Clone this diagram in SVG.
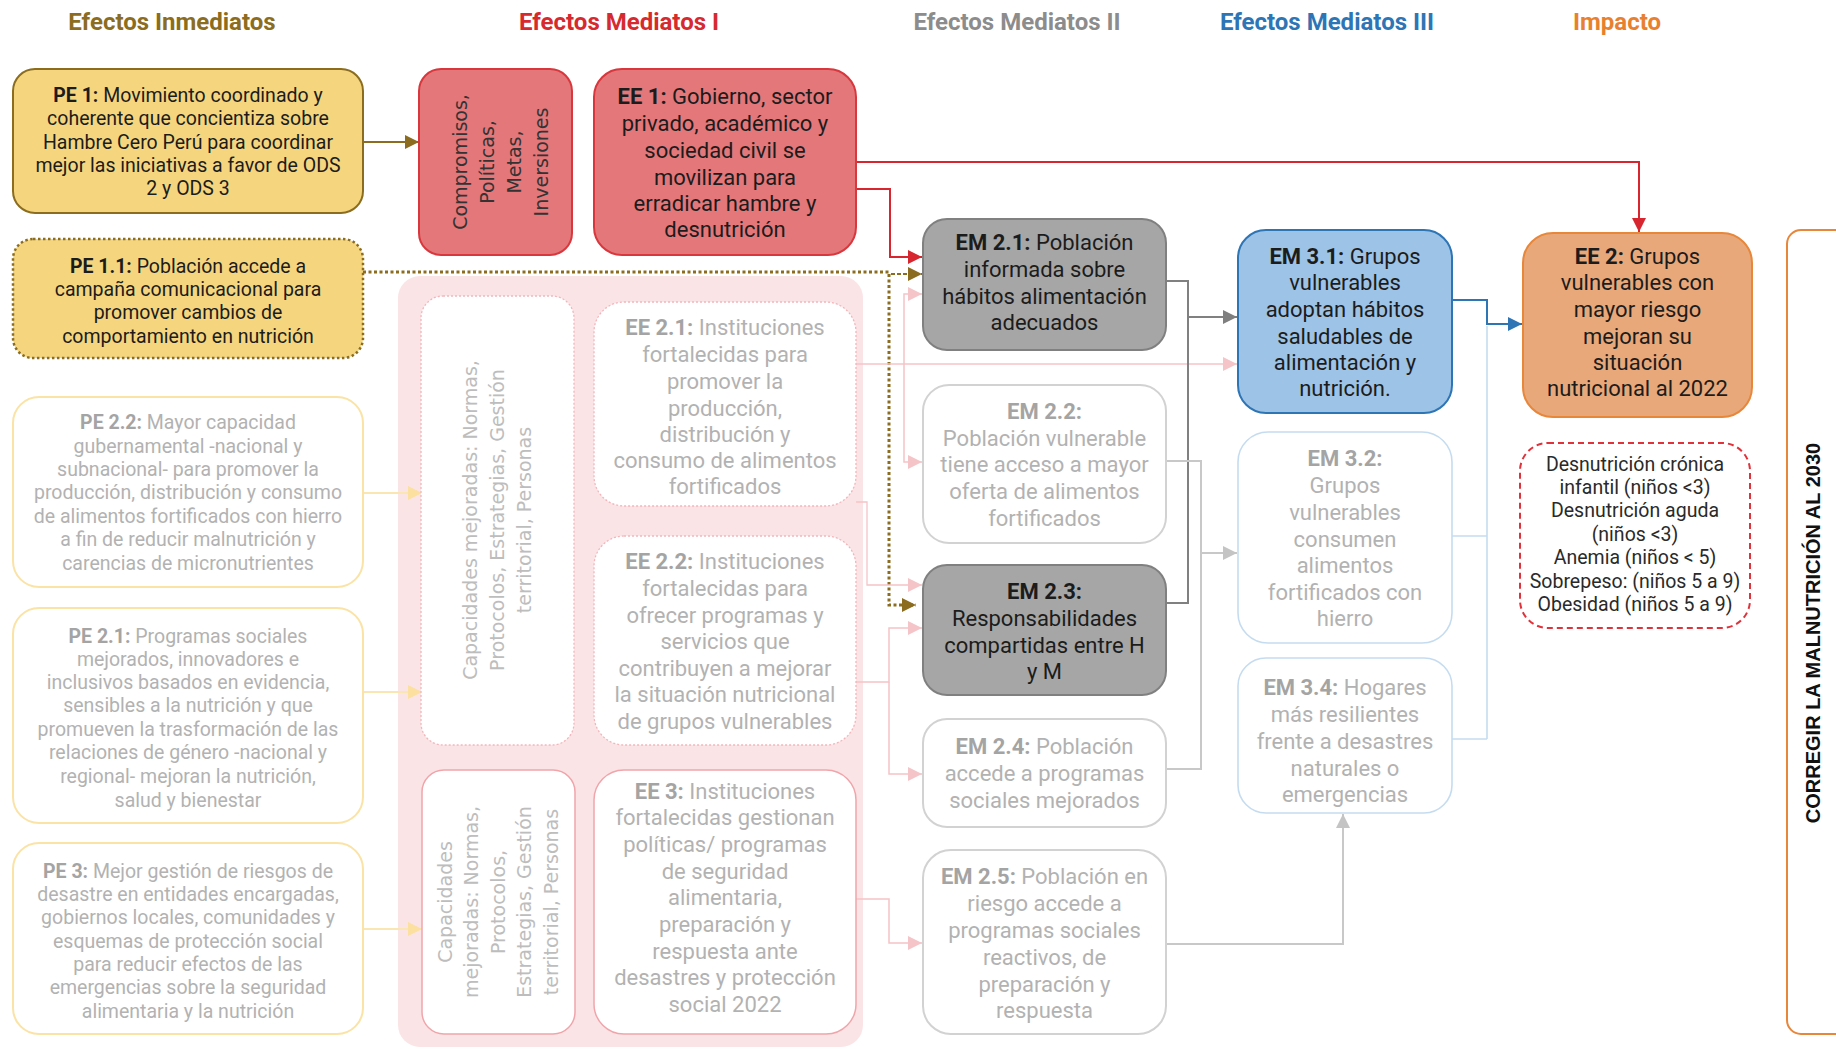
<svg xmlns="http://www.w3.org/2000/svg" width="1836" height="1049" viewBox="0 0 1836 1049">
<style>
.n{font-family:Roboto,"Liberation Sans",sans-serif;text-anchor:middle}
.s{font-size:19.5px}
.l{font-size:22px}
.b{font-weight:bold}
.dk{fill:#1c1c1c}
.fd{fill:#b2b2b2}
.fb{fill:#a4a4a4}
.ttl{font-family:Roboto,"Liberation Sans",sans-serif;font-weight:bold;font-size:24px;text-anchor:middle}
.rot{font-family:"DejaVu Sans",sans-serif;font-size:19px;text-anchor:middle;dominant-baseline:central}
.pe{fill:#f5d67f;stroke:#8c6d1f;stroke-width:2}
.pef{fill:#fff;stroke:#fbe3a6;stroke-width:2}
.red{fill:#e4777a;stroke:#d8383d;stroke-width:2}
.pkd{fill:#fff;stroke:#f3b5ba;stroke-width:1.3;stroke-dasharray:2 2}
.pks{fill:#fff;stroke:#f0a5aa;stroke-width:1.5}
.gr{fill:#a6a6a6;stroke:#808080;stroke-width:2}
.grf{fill:#fff;stroke:#d2d2d2;stroke-width:2}
.bl{fill:#9dc3e6;stroke:#2e75b6;stroke-width:2}
.blf{fill:#fff;stroke:#c5dcf0;stroke-width:1.6}
.or{fill:#e8a87a;stroke:#e8863a;stroke-width:2}
.c{fill:none}
</style>
<defs>
<marker id="aO" viewBox="0 0 10 10" refX="10" refY="5" markerWidth="14" markerHeight="14" orient="auto" markerUnits="userSpaceOnUse"><path d="M0,0L10,5L0,10z" fill="#8c6d1f"/></marker>
<marker id="aR" viewBox="0 0 10 10" refX="10" refY="5" markerWidth="14" markerHeight="14" orient="auto" markerUnits="userSpaceOnUse"><path d="M0,0L10,5L0,10z" fill="#d7262f"/></marker>
<marker id="aP" viewBox="0 0 10 10" refX="10" refY="5" markerWidth="14" markerHeight="14" orient="auto" markerUnits="userSpaceOnUse"><path d="M0,0L10,5L0,10z" fill="#f5c4c8"/></marker>
<marker id="aG" viewBox="0 0 10 10" refX="10" refY="5" markerWidth="14" markerHeight="14" orient="auto" markerUnits="userSpaceOnUse"><path d="M0,0L10,5L0,10z" fill="#7f7f7f"/></marker>
<marker id="aL" viewBox="0 0 10 10" refX="10" refY="5" markerWidth="14" markerHeight="14" orient="auto" markerUnits="userSpaceOnUse"><path d="M0,0L10,5L0,10z" fill="#c4c4c4"/></marker>
<marker id="aB" viewBox="0 0 10 10" refX="10" refY="5" markerWidth="14" markerHeight="14" orient="auto" markerUnits="userSpaceOnUse"><path d="M0,0L10,5L0,10z" fill="#2e75b6"/></marker>
<marker id="aY" viewBox="0 0 10 10" refX="10" refY="5" markerWidth="14" markerHeight="14" orient="auto" markerUnits="userSpaceOnUse"><path d="M0,0L10,5L0,10z" fill="#fbe0a0"/></marker>
</defs>
<rect width="1836" height="1049" fill="#fff"/>

<g id="titles">
<text class="ttl" x="172" y="30" fill="#8c6d1f">Efectos Inmediatos</text>
<text class="ttl" x="619" y="30" fill="#d62a2f">Efectos Mediatos I</text>
<text class="ttl" x="1017" y="30" fill="#8c8c8c">Efectos Mediatos II</text>
<text class="ttl" x="1327" y="30" fill="#2e75b6">Efectos Mediatos III</text>
<text class="ttl" x="1617" y="30" fill="#e8812f">Impacto</text>
</g>

<g id="pink-background">
<rect x="398" y="276" width="465" height="771" rx="22" fill="#fbe4e6"/>
</g>

<g id="connectors" class="c">
<path d="M363,142H419" stroke="#8c6d1f" stroke-width="2" marker-end="url(#aO)"/>
<path d="M363,272H889V605H916" stroke="#8c6d1f" stroke-width="3" stroke-dasharray="3 2.5" marker-end="url(#aO)"/>
<path d="M891,274H922" stroke="#8c6d1f" stroke-width="2" stroke-dasharray="4 2" marker-end="url(#aO)"/>
<path d="M856,162H1639V232" stroke="#d7262f" stroke-width="2" marker-end="url(#aR)"/>
<path d="M856,189H890V257H922" stroke="#d7262f" stroke-width="2" marker-end="url(#aR)"/>
<path d="M856,364H1237" stroke="#f5c4c8" stroke-width="1.3" marker-end="url(#aP)"/>
<path d="M904,364V294H922" stroke="#f5c4c8" stroke-width="1.5" marker-end="url(#aP)"/>
<path d="M904,364V462H922" stroke="#f5c4c8" stroke-width="1.5" marker-end="url(#aP)"/>
<path d="M856,502H867V585H922" stroke="#f5c4c8" stroke-width="1.3" marker-end="url(#aP)"/>
<path d="M856,682H889V628H922" stroke="#f5c4c8" stroke-width="1.5" marker-end="url(#aP)"/>
<path d="M889,682V774H922" stroke="#f5c4c8" stroke-width="1.5" marker-end="url(#aP)"/>
<path d="M856,899H889V943H922" stroke="#f5c4c8" stroke-width="1.5" marker-end="url(#aP)"/>
<path d="M1166,281H1188V603H1166" stroke="#808080" stroke-width="2"/>
<path d="M1188,317H1237" stroke="#808080" stroke-width="2" marker-end="url(#aG)"/>
<path d="M1166,461H1201V769H1166" stroke="#c8c8c8" stroke-width="2"/>
<path d="M1201,553H1237" stroke="#c8c8c8" stroke-width="2" marker-end="url(#aL)"/>
<path d="M1166,944H1343V814" stroke="#c8c8c8" stroke-width="2" marker-end="url(#aL)"/>
<path d="M1452,300H1487V324H1522" stroke="#2e75b6" stroke-width="2" marker-end="url(#aB)"/>
<path d="M1452,536H1487M1452,739H1487M1487,326V739" stroke="#c5dcf0" stroke-width="1.6"/>
<path d="M363,493H422" stroke="#fbe6b3" stroke-width="2" marker-end="url(#aY)"/>
<path d="M363,692H422" stroke="#fbe6b3" stroke-width="2" marker-end="url(#aY)"/>
<path d="M363,929H422" stroke="#fbe6b3" stroke-width="2" marker-end="url(#aY)"/>
</g>

<g id="PE1">
<rect class="pe" x="13" y="69" width="350" height="144" rx="22"/>
<text class="n s dk"><tspan x="188" y="102"><tspan class="b">PE 1:</tspan> Movimiento coordinado y</tspan><tspan x="188" y="125">coherente que concientiza sobre</tspan><tspan x="188" y="149">Hambre Cero Perú para coordinar</tspan><tspan x="188" y="172">mejor las iniciativas a favor de ODS</tspan><tspan x="188" y="195">2 y ODS 3</tspan></text>
</g>
<g id="PE1.1">
<rect x="13" y="239" width="350" height="119" rx="20" fill="#f5d67f" stroke="#8c6d1f" stroke-width="2.5" stroke-dasharray="2.5 2.5"/>
<text class="n s dk"><tspan x="188" y="273"><tspan class="b">PE 1.1:</tspan> Población accede a</tspan><tspan x="188" y="296">campaña comunicacional para</tspan><tspan x="188" y="319">promover cambios de</tspan><tspan x="188" y="343">comportamiento en nutrición</tspan></text>
</g>
<g id="PE2.2">
<rect class="pef" x="13" y="397" width="350" height="190" rx="26"/>
<text class="n s fd"><tspan x="188" y="429"><tspan class="b fb">PE 2.2:</tspan> Mayor capacidad</tspan><tspan x="188" y="453">gubernamental -nacional y</tspan><tspan x="188" y="476">subnacional- para promover la</tspan><tspan x="188" y="499">producción, distribución y consumo</tspan><tspan x="188" y="523">de alimentos fortificados con hierro</tspan><tspan x="188" y="546">a fin de reducir malnutrición y</tspan><tspan x="188" y="570">carencias de micronutrientes</tspan></text>
</g>
<g id="PE2.1">
<rect class="pef" x="13" y="608" width="350" height="215" rx="26"/>
<text class="n s fd"><tspan x="188" y="643"><tspan class="b fb">PE 2.1:</tspan> Programas sociales</tspan><tspan x="188" y="666">mejorados, innovadores e</tspan><tspan x="188" y="689">inclusivos basados en evidencia,</tspan><tspan x="188" y="712">sensibles a la nutrición y que</tspan><tspan x="188" y="736">promueven la trasformación de las</tspan><tspan x="188" y="759">relaciones de género -nacional y</tspan><tspan x="188" y="783">regional- mejoran la nutrición,</tspan><tspan x="188" y="807">salud y bienestar</tspan></text>
</g>
<g id="PE3">
<rect class="pef" x="13" y="843" width="350" height="191" rx="26"/>
<text class="n s fd"><tspan x="188" y="878"><tspan class="b fb">PE 3:</tspan> Mejor gestión de riesgos de</tspan><tspan x="188" y="901">desastre en entidades encargadas,</tspan><tspan x="188" y="924">gobiernos locales, comunidades y</tspan><tspan x="188" y="948">esquemas de protección social</tspan><tspan x="188" y="971">para reducir efectos de las</tspan><tspan x="188" y="994">emergencias sobre la seguridad</tspan><tspan x="188" y="1018">alimentaria y la nutrición</tspan></text>
</g>

<g id="Compromisos">
<rect class="red" x="419" y="69" width="153" height="186" rx="22"/>
<g class="rot" fill="#333">
<text transform="translate(460,162) rotate(-90)">Compromisos,</text>
<text transform="translate(487,162) rotate(-90)">Políticas,</text>
<text transform="translate(514,162) rotate(-90)">Metas,</text>
<text transform="translate(541,162) rotate(-90)">Inversiones</text>
</g>
</g>
<g id="EE1">
<rect class="red" x="594" y="69" width="262" height="186" rx="28"/>
<text class="n l dk"><tspan x="725" y="104"><tspan class="b">EE 1:</tspan> Gobierno, sector</tspan><tspan x="725" y="131">privado, académico y</tspan><tspan x="725" y="158">sociedad civil se</tspan><tspan x="725" y="185">movilizan para</tspan><tspan x="725" y="211">erradicar hambre y</tspan><tspan x="725" y="237">desnutrición</tspan></text>
</g>
<g id="Capacidades1">
<rect class="pkd" x="421" y="296" width="153" height="449" rx="22"/>
<g class="rot" fill="#bdbdbd">
<text transform="translate(470,520) rotate(-90)">Capacidades mejoradas: Normas,</text>
<text transform="translate(497,520) rotate(-90)">Protocolos, Estrategias, Gestión</text>
<text transform="translate(524,520) rotate(-90)">territorial, Personas</text>
</g>
</g>
<g id="EE2.1">
<rect class="pkd" x="594" y="302" width="262" height="204" rx="30"/>
<text class="n l fd"><tspan x="725" y="335"><tspan class="b fb">EE 2.1:</tspan> Instituciones</tspan><tspan x="725" y="362">fortalecidas para</tspan><tspan x="725" y="389">promover la</tspan><tspan x="725" y="416">producción,</tspan><tspan x="725" y="442">distribución y</tspan><tspan x="725" y="468">consumo de alimentos</tspan><tspan x="725" y="494">fortificados</tspan></text>
</g>
<g id="EE2.2">
<rect class="pkd" x="594" y="536" width="262" height="209" rx="30"/>
<text class="n l fd"><tspan x="725" y="569"><tspan class="b fb">EE 2.2:</tspan> Instituciones</tspan><tspan x="725" y="596">fortalecidas para</tspan><tspan x="725" y="623">ofrecer programas y</tspan><tspan x="725" y="649">servicios que</tspan><tspan x="725" y="676">contribuyen a mejorar</tspan><tspan x="725" y="702">la situación nutricional</tspan><tspan x="725" y="729">de grupos vulnerables</tspan></text>
</g>
<g id="Capacidades2">
<rect class="pks" x="422" y="770" width="153" height="264" rx="22"/>
<g class="rot" fill="#bdbdbd">
<text transform="translate(445,902) rotate(-90)">Capacidades</text>
<text transform="translate(471,902) rotate(-90)">mejoradas: Normas,</text>
<text transform="translate(498,902) rotate(-90)">Protocolos,</text>
<text transform="translate(524,902) rotate(-90)">Estrategias, Gestión</text>
<text transform="translate(551,902) rotate(-90)">territorial, Personas</text>
</g>
</g>
<g id="EE3">
<rect class="pks" x="594" y="770" width="262" height="264" rx="30"/>
<text class="n l fd"><tspan x="725" y="799"><tspan class="b fb">EE 3:</tspan> Instituciones</tspan><tspan x="725" y="825">fortalecidas gestionan</tspan><tspan x="725" y="852">políticas/ programas</tspan><tspan x="725" y="879">de seguridad</tspan><tspan x="725" y="905">alimentaria,</tspan><tspan x="725" y="932">preparación y</tspan><tspan x="725" y="959">respuesta ante</tspan><tspan x="725" y="985">desastres y protección</tspan><tspan x="725" y="1012">social 2022</tspan></text>
</g>

<g id="EM2.1">
<rect class="gr" x="923" y="219" width="243" height="131" rx="24"/>
<text class="n l dk"><tspan x="1044.5" y="250"><tspan class="b">EM 2.1:</tspan> Población</tspan><tspan x="1044.5" y="277">informada sobre</tspan><tspan x="1044.5" y="304">hábitos alimentación</tspan><tspan x="1044.5" y="330">adecuados</tspan></text>
</g>
<g id="EM2.2">
<rect class="grf" x="923" y="385" width="243" height="158" rx="26"/>
<text class="n l fd"><tspan x="1044.5" y="419" class="b fb">EM 2.2:</tspan><tspan x="1044.5" y="446">Población vulnerable</tspan><tspan x="1044.5" y="472">tiene acceso a mayor</tspan><tspan x="1044.5" y="499">oferta de alimentos</tspan><tspan x="1044.5" y="526">fortificados</tspan></text>
</g>
<g id="EM2.3">
<rect class="gr" x="923" y="565" width="243" height="130" rx="24"/>
<text class="n l dk"><tspan x="1044.5" y="599" class="b">EM 2.3:</tspan><tspan x="1044.5" y="626">Responsabilidades</tspan><tspan x="1044.5" y="653">compartidas entre H</tspan><tspan x="1044.5" y="679">y M</tspan></text>
</g>
<g id="EM2.4">
<rect class="grf" x="923" y="719" width="243" height="108" rx="24"/>
<text class="n l fd"><tspan x="1044.5" y="754"><tspan class="b fb">EM 2.4:</tspan> Población</tspan><tspan x="1044.5" y="781">accede a programas</tspan><tspan x="1044.5" y="808">sociales mejorados</tspan></text>
</g>
<g id="EM2.5">
<rect class="grf" x="923" y="850" width="243" height="184" rx="28"/>
<text class="n l fd"><tspan x="1044.5" y="884"><tspan class="b fb">EM 2.5:</tspan> Población en</tspan><tspan x="1044.5" y="911">riesgo accede a</tspan><tspan x="1044.5" y="938">programas sociales</tspan><tspan x="1044.5" y="965">reactivos, de</tspan><tspan x="1044.5" y="992">preparación y</tspan><tspan x="1044.5" y="1018">respuesta</tspan></text>
</g>

<g id="EM3.1">
<rect class="bl" x="1238" y="230" width="214" height="183" rx="28"/>
<text class="n l dk"><tspan x="1345" y="264"><tspan class="b">EM 3.1:</tspan> Grupos</tspan><tspan x="1345" y="290">vulnerables</tspan><tspan x="1345" y="317">adoptan hábitos</tspan><tspan x="1345" y="344">saludables de</tspan><tspan x="1345" y="370">alimentación y</tspan><tspan x="1345" y="396">nutrición.</tspan></text>
</g>
<g id="EM3.2">
<rect class="blf" x="1238" y="432" width="214" height="211" rx="30"/>
<text class="n l fd"><tspan x="1345" y="466" class="b fb">EM 3.2:</tspan><tspan x="1345" y="493">Grupos</tspan><tspan x="1345" y="520">vulnerables</tspan><tspan x="1345" y="547">consumen</tspan><tspan x="1345" y="573">alimentos</tspan><tspan x="1345" y="600">fortificados con</tspan><tspan x="1345" y="626">hierro</tspan></text>
</g>
<g id="EM3.4">
<rect class="blf" x="1238" y="658" width="214" height="155" rx="28"/>
<text class="n l fd"><tspan x="1345" y="695"><tspan class="b fb">EM 3.4:</tspan> Hogares</tspan><tspan x="1345" y="722">más resilientes</tspan><tspan x="1345" y="749">frente a desastres</tspan><tspan x="1345" y="776">naturales o</tspan><tspan x="1345" y="802">emergencias</tspan></text>
</g>

<g id="EE2">
<rect class="or" x="1523" y="233" width="229" height="184" rx="30"/>
<text class="n l dk"><tspan x="1637.5" y="264"><tspan class="b">EE 2:</tspan> Grupos</tspan><tspan x="1637.5" y="290">vulnerables con</tspan><tspan x="1637.5" y="317">mayor riesgo</tspan><tspan x="1637.5" y="344">mejoran su</tspan><tspan x="1637.5" y="370">situación</tspan><tspan x="1637.5" y="396">nutricional al 2022</tspan></text>
</g>
<g id="Indicadores">
<rect x="1520" y="443" width="230" height="185" rx="28" fill="#fff" stroke="#e0323a" stroke-width="2" stroke-dasharray="6 4"/>
<text class="n s" fill="#2a2a2a"><tspan x="1635" y="471">Desnutrición crónica</tspan><tspan x="1635" y="494">infantil (niños &lt;3)</tspan><tspan x="1635" y="517">Desnutrición aguda</tspan><tspan x="1635" y="541">(niños &lt;3)</tspan><tspan x="1635" y="564">Anemia (niños &lt; 5)</tspan><tspan x="1635" y="588">Sobrepeso: (niños 5 a 9)</tspan><tspan x="1635" y="611">Obesidad (niños 5 a 9)</tspan></text>
</g>
<g id="Objetivo">
<rect x="1787" y="230" width="90" height="804" rx="14" fill="#fff" stroke="#e8863a" stroke-width="2"/>
<text transform="translate(1813,633) rotate(-90)" font-family="'Liberation Sans',Arial,sans-serif" font-weight="bold" font-size="20" text-anchor="middle" dominant-baseline="central" fill="#111">CORREGIR LA MALNUTRICIÓN AL 2030</text>
</g>
</svg>
